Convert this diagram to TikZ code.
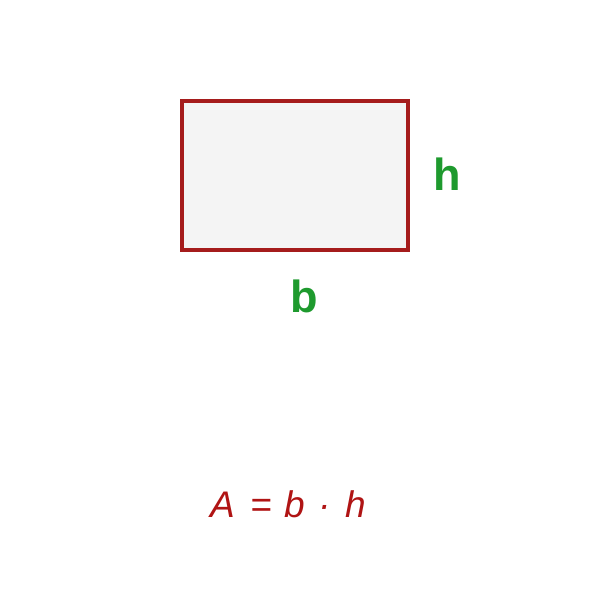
\documentclass[tikz,border=0pt]{standalone}
\usepackage{fontspec}
\setmainfont{Liberation Sans}
\definecolor{edgered}{HTML}{A51C1C}
\definecolor{fillgray}{HTML}{F4F4F4}
\definecolor{labgreen}{HTML}{1E9A2E}
\definecolor{formred}{HTML}{B01414}
\tikzset{
  rectbox/.style={draw=edgered, fill=fillgray, line width=4pt, minimum width=226pt, minimum height=149pt, inner sep=0pt},
  lab/.style={text=labgreen, font=\fontsize{45}{50}\selectfont\bfseries, inner sep=0pt},
  formula/.style={text=formred, font=\fontsize{37}{42}\selectfont\itshape, inner sep=0pt}
}
\begin{document}
\begin{tikzpicture}[x=1pt,y=-1pt]
\useasboundingbox[fill=white] (0,0) rectangle (600,600);
\node[rectbox] (r) at (295,175.5) {};
\node[lab, anchor=base] (h) at (447,190) {h};
\node[lab, anchor=base] (b) at (304,312) {b};
\node[formula, anchor=base] (f) at (288,517) {A\kern16pt=\kern12pt b\kern14pt·\kern14pt h};
\end{tikzpicture}
\end{document}
